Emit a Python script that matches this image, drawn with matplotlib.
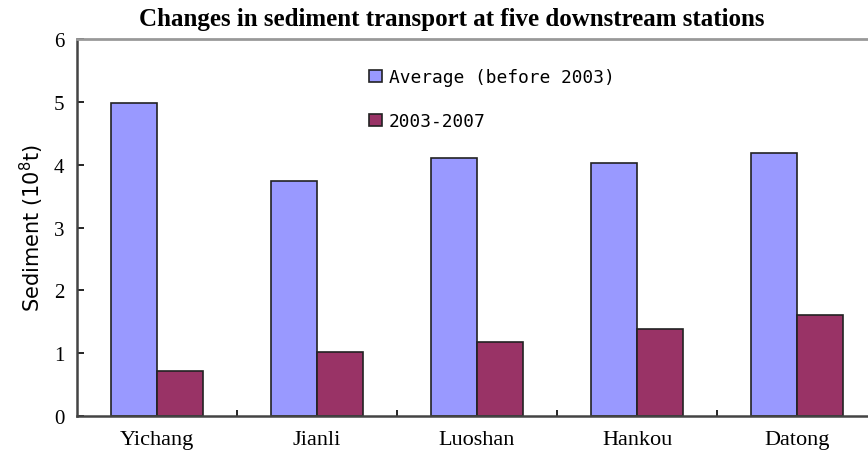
import numpy as np
import matplotlib
matplotlib.use('Agg')
import matplotlib.pyplot as plt

# Data
stations = ['Yichang', 'Jianli', 'Luoshan', 'Hankou', 'Datong']
avg_before_2003 = [4.98, 3.74, 4.11, 4.03, 4.19]
period_2003_2007 = [0.72, 1.02, 1.18, 1.38, 1.61]

fig = plt.figure(figsize=(8.68, 4.56), dpi=100)
# right edge runs a little past the figure, as in the original
ax = fig.add_axes([0.0887, 0.0855, 0.9217, 0.8268])

x = np.arange(len(stations))
w = 0.29
ax.bar(x - w / 2, avg_before_2003, w, color='#9999FF', edgecolor='#222222',
       linewidth=1.2, label='Average (before 2003)')
ax.bar(x + w / 2, period_2003_2007, w, color='#993366', edgecolor='#222222',
       linewidth=1.2, label='2003-2007')

ax.set_xlim(-0.5, len(stations) - 0.5)
ax.set_ylim(0, 6)
ax.set_yticks(range(7))
ax.set_xticks(x)
ax.set_xticklabels(stations, family='Liberation Serif', fontsize=16)
for lab in ax.get_yticklabels():
    lab.set_family('Liberation Serif')
    lab.set_fontsize(15)
ax.set_xticks(x[:-1] + 0.5, minor=True)
ax.tick_params(axis='x', which='major', length=0, pad=10)
ax.tick_params(axis='x', which='minor', direction='in', length=4, width=1.2)
ax.tick_params(axis='y', direction='in', length=5, width=1.2, pad=9)

for s in ['left', 'bottom']:
    ax.spines[s].set_color('#444444')
    ax.spines[s].set_linewidth(1.8)
ax.spines['top'].set_color('#999999')
ax.spines['top'].set_linewidth(2.0)
ax.spines['right'].set_visible(False)

ax.set_ylabel(r'Sediment (10$^8$t)', family='DejaVu Sans', fontsize=15, labelpad=6)

ax.legend(loc='upper left', bbox_to_anchor=(0.345, 0.965), frameon=False,
          prop={'family': 'DejaVu Sans Mono', 'size': 12.9}, labelspacing=1.45,
          handlelength=0.7, handleheight=0.7, handletextpad=0.4)

fig.suptitle('Changes in sediment transport at five downstream stations',
             family='Liberation Serif', fontweight='bold', fontsize=18, x=0.52, y=0.982)

fig.savefig('out.png', dpi=100)
